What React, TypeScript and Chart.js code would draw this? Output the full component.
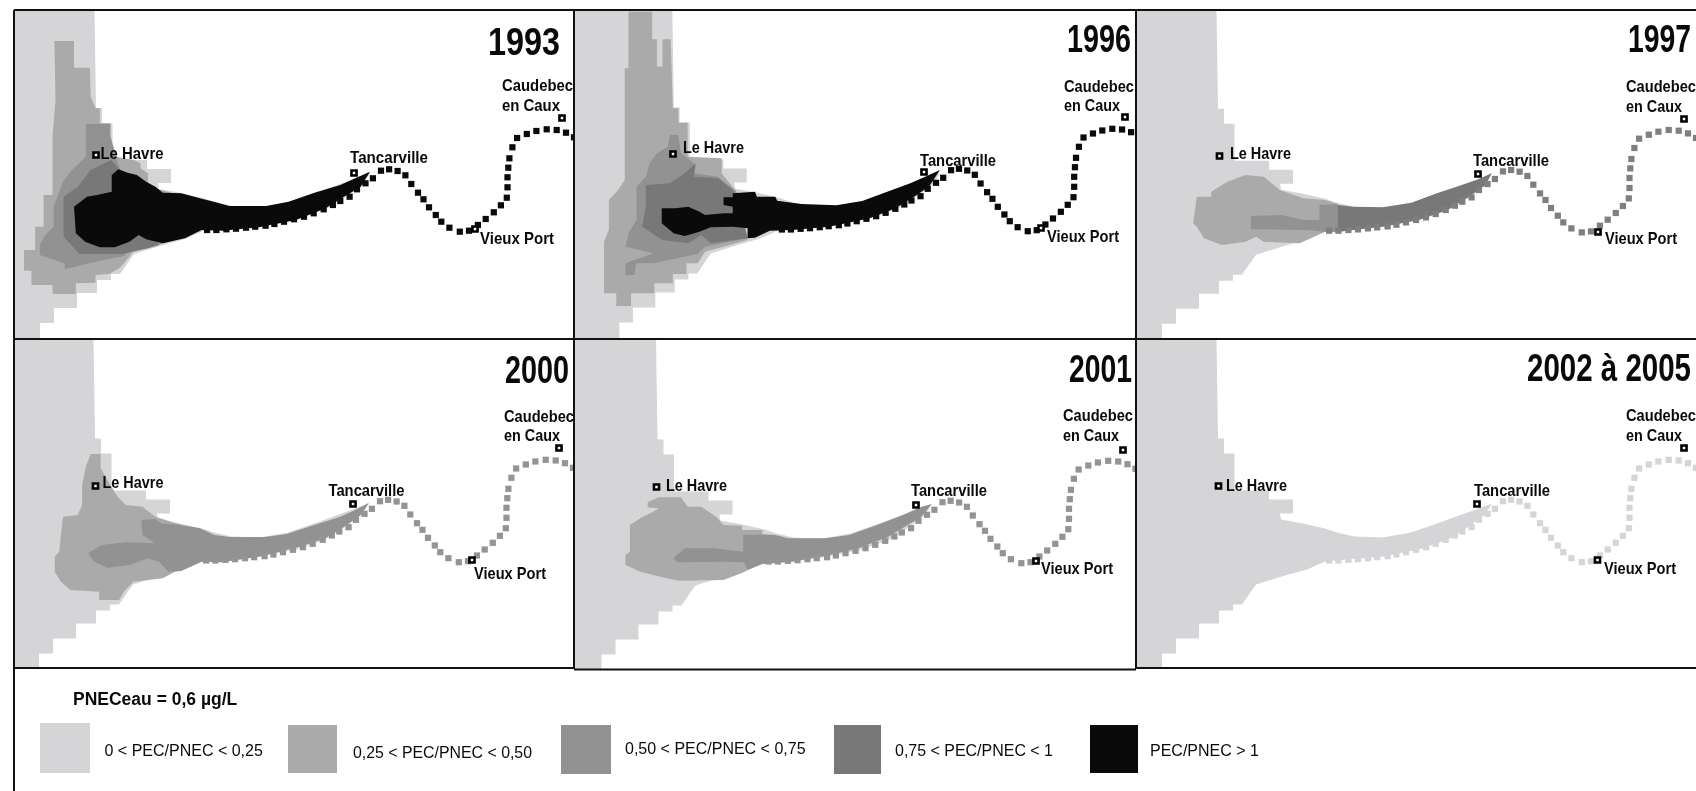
import React, { useEffect, useRef } from "react";
import { Chart, registerables } from "chart.js";

Chart.register(...registerables);

type P = number[];

// ---------- text ----------
const years = ["1993", "1996", "1997", "2000", "2001", "2002 à 2005"];
const townNames = ["Caudebec", "en Caux", "Le Havre", "Tancarville", "Vieux Port"];
const legendTitle = "PNECeau = 0,6 µg/L";
const legendLabels = [
  "0 < PEC/PNEC < 0,25",
  "0,25 < PEC/PNEC < 0,50",
  "0,50 < PEC/PNEC < 0,75",
  "0,75 < PEC/PNEC < 1",
  "PEC/PNEC > 1",
];
const classColors = ["#d5d4d6", "#aaaaaa", "#929292", "#787878", "#0a0a0a"];

// ---------- geography, in map units relative to a panel ----------
const seaExtent: P[] = [
  [0, 0], [80.5, 0], [82, 98], [88, 98], [88, 113], [98.5, 113], [98.5, 150], [133, 150], [133, 159], [157, 159],
  [157, 173], [144, 173], [145, 179], [167, 183], [189, 188], [201, 192], [218, 196], [247, 197], [275, 192],
  [301, 183], [326, 174], [340, 169], [356, 163], [349, 174], [333, 186], [312, 199], [283, 209], [247, 216],
  [210, 219], [189, 221], [171, 229], [149, 235], [120, 244], [115, 251], [106, 264], [97, 264], [97, 270],
  [83, 270], [83, 283], [63, 283], [63, 298], [40, 298], [40, 313], [26, 313], [26, 330], [0, 330],
];

const riverDots: P[] = [
  [193.1, 220], [202.4, 220], [212.4, 219.3], [222, 218.7], [232, 217.7], [241.2, 216.7], [251.6, 215.7],
  [260.4, 214], [270, 211.7], [280, 209.3], [290, 206.7], [299.7, 203.3], [309.7, 199.3], [318.9, 195],
  [326.3, 191], [335.6, 186.7], [343, 179.3], [351.5, 173.3], [358.9, 168.3], [367, 160.7], [375.1, 159.3],
  [383.6, 161], [391.4, 165.3], [397.3, 174], [404, 182.7], [409.5, 189.3], [415, 197.3], [421.8, 205],
  [427.3, 211.7], [435.4, 217.7], [445.8, 221.7], [455, 220.7], [463.9, 215], [471.7, 209], [479.8, 202.3],
  [486.9, 195.3], [492.8, 187.7], [493.5, 177.3], [493.5, 167.3], [494.3, 157.7], [495.4, 148.3], [498.4, 137.3],
  [503.1, 128], [512.8, 124], [522.4, 121], [532.7, 119.3], [542.7, 120], [552, 122.7], [560, 127.3],
];

// ---------- concentration classes, in traced units of each panel ----------
const y1993Mid: P[] = [
  [147, 123], [200, 123], [200, 203], [243, 203], [245, 290], [258, 325], [270, 325], [270, 370], [298, 370],
  [298, 408], [315, 470], [362, 480], [380, 490], [380, 505], [400, 520], [400, 560], [470, 580], [540, 600],
  [540, 690], [430, 735], [360, 755], [335, 790], [322, 805], [295, 822], [258, 825], [258, 848], [205, 850],
  [205, 882], [142, 882], [142, 855], [85, 855], [85, 812], [65, 812], [65, 750], [95, 750], [95, 680], [118, 680],
  [118, 585], [142, 585], [142, 410], [150, 300], [147, 123],
];
const y1993Class3: P[] = [
  [232, 372], [298, 372], [298, 408], [315, 480], [330, 520], [400, 620], [440, 730], [360, 745], [335, 768],
  [240, 790], [175, 808], [175, 790], [108, 765], [108, 735], [122, 705], [145, 680], [145, 620], [170, 545],
  [190, 515], [232, 470],
];
const y1993Class4: P[] = [
  [172, 590], [210, 560], [245, 510], [300, 480], [320, 505], [340, 600], [430, 735], [400, 745], [330, 762],
  [215, 762], [172, 710],
];
const y1993Black: P[] = [
  [200, 620], [235, 590], [262, 585], [302, 575], [302, 525], [320, 508], [345, 518], [370, 525], [395, 545],
  [420, 560], [440, 578], [490, 580], [540, 595], [578, 605], [620, 618], [720, 618], [780, 605], [850, 578],
  [920, 555], [960, 535], [1000, 515], [975, 560], [930, 590], [880, 625], [800, 660], [700, 682], [600, 692],
  [545, 690], [500, 715], [440, 730], [395, 718], [375, 705], [350, 725], [310, 742], [270, 742], [230, 725],
  [205, 700],
];

const y1996Mid: P[] = [
  [158, 35], [222, 35], [222, 118], [235, 118], [235, 200], [250, 200], [250, 118], [272, 118], [278, 325],
  [293, 325], [293, 368], [318, 368], [318, 470], [410, 475], [410, 520], [450, 575], [480, 720], [365, 755],
  [345, 790], [315, 790], [315, 822], [278, 822], [278, 850], [228, 850], [228, 880], [165, 880], [165, 918],
  [125, 918], [125, 880], [92, 880], [92, 725], [105, 690], [105, 600], [130, 570], [148, 540], [148, 205],
  [158, 205],
];
const y1996Class3: P[] = [
  [270, 405], [292, 405], [300, 460], [335, 490], [335, 520], [400, 530], [450, 575], [480, 715], [365, 740],
  [345, 762], [225, 790], [178, 790], [175, 825], [150, 825], [150, 790], [225, 760], [150, 740], [160, 695],
  [180, 660], [180, 560], [205, 530], [215, 490], [235, 460], [265, 440],
];
const y1996Class4: P[] = [
  [205, 555], [270, 550], [310, 520], [340, 490], [335, 530], [400, 535], [440, 570], [455, 610], [480, 715],
  [380, 730], [355, 705], [320, 730], [250, 720], [195, 680], [205, 620],
];
const y1996Black: P[] = [
  [248, 625], [285, 625], [320, 620], [350, 635], [365, 645], [415, 640], [440, 640], [440, 620], [415, 615],
  [415, 592], [440, 592], [440, 580], [500, 575], [505, 590], [555, 590], [560, 602], [625, 612], [720, 616],
  [790, 603], [850, 578], [920, 550], [960, 530], [1000, 510], [970, 560], [930, 590], [880, 625], [810, 655],
  [700, 680], [600, 690], [540, 692], [500, 713], [480, 715], [480, 685], [440, 680], [380, 682], [350, 695],
  [310, 708], [280, 700], [248, 670],
];

const y1997Mid: P[] = [
  [185, 590], [225, 590], [225, 575], [270, 545], [320, 525], [370, 530], [415, 570], [480, 595], [540, 600],
  [575, 612], [575, 695], [540, 695], [470, 730], [370, 725], [350, 710], [320, 725], [255, 735], [205, 715],
  [185, 680], [175, 670],
];
const y1997Class3: P[] = [
  [335, 648], [420, 645], [480, 660], [525, 660], [525, 615], [575, 612], [575, 697], [540, 695], [490, 690],
  [335, 688],
];
const y1997Class4: P[] = [
  [575, 615], [620, 620], [700, 622], [780, 608], [850, 580], [920, 555], [960, 540], [1002, 520], [985, 555],
  [940, 590], [880, 630], [800, 660], [700, 680], [600, 692], [575, 697],
];

const y2000Mid: P[] = [
  [245, 357], [272, 357], [272, 400], [298, 450], [318, 485], [340, 510], [385, 515], [420, 545], [490, 570],
  [490, 700], [440, 730], [360, 740], [335, 770], [322, 795], [268, 795], [268, 770], [190, 765], [165, 740],
  [148, 710], [148, 665], [160, 650], [170, 545], [210, 540], [222, 510], [222, 450], [232, 395],
];
const y2000Class3: P[] = [
  [382, 555], [420, 552], [435, 565], [490, 570], [540, 580], [580, 600], [620, 606], [715, 606], [775, 597],
  [850, 570], [920, 545], [960, 525], [997, 503], [975, 540], [930, 575], [880, 610], [810, 635], [700, 665],
  [600, 682], [545, 680], [490, 708], [455, 710], [430, 680], [400, 670], [350, 690], [290, 698], [255, 680],
  [238, 655], [275, 630], [340, 622], [420, 625], [385, 600],
];

const y2001Mid: P[] = [
  [210, 502], [240, 487], [300, 487], [318, 515], [355, 515], [395, 545], [415, 570], [465, 572], [465, 585],
  [520, 585], [520, 598], [480, 600], [470, 640], [510, 685], [470, 712], [415, 735], [295, 737], [255, 728],
  [190, 710], [150, 690], [150, 660], [162, 650], [162, 570], [190, 550], [225, 530], [240, 520], [210, 517],
];
const y2001Class3: P[] = [
  [468, 600], [520, 598], [555, 600], [590, 610], [690, 610], [755, 600], [830, 570], [900, 540], [950, 515],
  [978, 507], [950, 545], [905, 575], [860, 605], [780, 640], [680, 665], [600, 680], [520, 687], [480, 705],
  [470, 682], [420, 680], [290, 682], [280, 670], [310, 640], [390, 640], [468, 650],
];

// ---------- layout (chart units = page pixels) ----------
const panels = [
  { ox: 14, oy: 10, h: 329, sx: 1, dx: 0, dy: 0, river: "#0a0a0a", vx: 0, vy: 0, k: 2.703,
    layers: [[y1993Mid, 1], [y1993Class3, 2], [y1993Class4, 3], [y1993Black, 4]] },
  { ox: 574, oy: 10, h: 329, sx: 0.973, dx: 20, dy: -0.5, river: "#0a0a0a", vx: 570, vy: 0, k: 2.703,
    layers: [[y1996Mid, 1], [y1996Class3, 2], [y1996Class4, 3], [y1996Black, 4]] },
  { ox: 1136, oy: 10, h: 329, sx: 1, dx: 0, dy: 0.7, river: "#7f7f7f", vx: 1130, vy: 0, k: 2.77,
    layers: [[y1997Mid, 1], [y1997Class3, 2], [y1997Class4, 3]] },
  { ox: 14, oy: 339, h: 329, sx: 1, dx: -1, dy: 1.5, river: "#949494", vx: 0, vy: 335, k: 2.703,
    layers: [[y2000Mid, 1], [y2000Class3, 2]] },
  { ox: 574, oy: 339, h: 330, sx: 1, dx: 1.5, dy: 2.5, river: "#949494", vx: 570, vy: 335, k: 2.703,
    layers: [[y2001Mid, 1], [y2001Class3, 2]] },
  { ox: 1136, oy: 339, h: 329, sx: 1, dx: 0, dy: 1.5, river: classColors[0], vx: 1130, vy: 335, k: 2.77,
    layers: [] },
] as { ox: number; oy: number; h: number; sx: number; dx: number; dy: number; river: string; vx: number; vy: number; k: number; layers: [P[], number][] }[];

// title: [left, baseline, width]
const titleSpots: P[] = [
  [488, 55, 72], [1067, 52, 64], [1628, 52, 63], [505, 383, 64], [1069, 382, 63], [1527, 381, 164],
];
// town labels per panel: Caudebec, en Caux, Le Havre, Tancarville, Vieux Port as [left, baseline, width]
const townSpots: P[][] = [
  [[502, 91, 71], [502, 111, 58], [100.5, 159, 63], [350, 163, 78], [480, 244, 74]],
  [[1064, 92, 70], [1064, 111, 56], [683, 153, 61], [920, 166, 76], [1047, 242, 72]],
  [[1626, 92, 70], [1626, 112, 56], [1230, 159, 61], [1473, 166, 76], [1605, 244, 72]],
  [[504, 422, 70], [504, 441, 56], [102.5, 488, 61], [328.5, 496, 76], [474, 579, 72]],
  [[1063, 421, 70], [1063, 441, 56], [666, 491, 61], [911, 496, 76], [1041, 574, 72]],
  [[1626, 421, 70], [1626, 441, 56], [1226, 491, 61], [1474, 496, 76], [1604, 574, 72]],
];
// town markers per panel: Le Havre, Tancarville, Vieux Port, Caudebec
const markerSpots: P[][] = [
  [[96, 155], [354, 173], [475, 229], [562, 118]],
  [[673, 154], [924, 172], [1041, 228], [1125, 117]],
  [[1219.5, 156], [1478, 174], [1598, 232], [1684, 119]],
  [[95.5, 486], [353, 504], [472, 560], [559, 448]],
  [[656.5, 487], [916, 505], [1036, 561], [1123, 450]],
  [[1218.5, 486], [1477, 504], [1597.5, 560], [1684, 448]],
];
const frameLines: P[] = [
  [14, 10, 1696, 10], [14, 10, 14, 791], [574, 10, 574, 669], [1136, 10, 1136, 669],
  [14, 339, 1696, 339], [14, 668, 574, 668], [1136, 668, 1696, 668], [574, 669.5, 1136, 669.5],
];
const swatches: P[] = [
  [40, 723, 90, 773], [288, 725, 337, 773], [561, 725, 611, 774], [834, 725, 881, 774], [1090, 725, 1138, 773],
];
// legend labels: [left, baseline, width]
const legendSpots: P[] = [
  [104.5, 756, 159], [353, 758, 179], [625, 754, 181], [895, 756, 158], [1150, 756, 110],
];

function buildDatasets() {
  const out: any[] = [];
  let z = 0;
  const poly = (pts: P[], color: string) =>
    out.push({
      data: pts.map(([x, y]) => ({ x, y })),
      fill: "shape", backgroundColor: color, borderWidth: 0, pointRadius: 0, tension: 0, order: -z++, clip: false,
    });
  panels.forEach((p) => {
    poly(
      seaExtent.map(([x, y]) => [
        x === 0 ? p.ox : p.ox + p.dx + p.sx * x,
        Math.min(p.oy + y + (y === 0 ? 0 : p.dy), p.oy + p.h),
      ]),
      classColors[0]
    );
    p.layers.forEach(([pts, c]) =>
      poly(pts.map(([x, y]) => [p.vx + x / p.k, p.vy + y / 3]), classColors[c])
    );
    out.push({
      data: riverDots.map(([x, y]) => ({ x: p.ox + p.dx + p.sx * x, y: p.oy + p.dy + y })),
      showLine: false, pointStyle: "rect", pointRadius: 4.4, pointBackgroundColor: p.river, pointBorderWidth: 0,
      order: -z++, clip: false,
    });
  });
  markerSpots.forEach((m) =>
    out.push({
      data: m.map(([x, y]) => ({ x, y })),
      showLine: false, pointStyle: "rect", pointRadius: 3.6, pointBackgroundColor: "#ffffff",
      pointBorderColor: "#000000", pointBorderWidth: 2.6, order: -z++, clip: false,
    })
  );
  swatches.forEach(([a, b, c, d], i) =>
    poly([[a, b], [c, b], [c, d], [a, d]], classColors[i])
  );
  frameLines.forEach(([a, b, c, d]) =>
    out.push({
      data: [{ x: a, y: b }, { x: c, y: d }],
      borderColor: "#111111", borderWidth: 2, pointRadius: 0, fill: false, order: -z++, clip: false,
    })
  );
  return out;
}

const textPlugin = {
  id: "mapText",
  afterDatasetsDraw(chart: any) {
    const { ctx, scales } = chart;
    const put = (t: string, s: P, font: string) => {
      ctx.font = font;
      ctx.fillStyle = "#0a0a0a";
      ctx.textAlign = "left";
      ctx.textBaseline = "alphabetic";
      ctx.fillText(t, scales.x.getPixelForValue(s[0]), scales.y.getPixelForValue(s[1]), s[2]);
    };
    ctx.save();
    years.forEach((t, i) => put(t, titleSpots[i], 'bold 38px "Liberation Sans"'));
    townSpots.forEach((row) =>
      row.forEach((s, i) => put(townNames[i], s, 'bold 16.5px "Liberation Sans"'))
    );
    put(legendTitle, [73, 705, 180], 'bold 17.5px "Liberation Sans"');
    legendLabels.forEach((t, i) => put(t, legendSpots[i], '16px "Liberation Sans"'));
    ctx.restore();
  },
};

export default function App() {
  const ref = useRef<HTMLCanvasElement>(null);
  useEffect(() => {
    const chart = new Chart(ref.current!, {
      type: "line",
      data: { datasets: buildDatasets() },
      options: {
        animation: false,
        responsive: false,
        devicePixelRatio: 1,
        layout: { padding: 0, autoPadding: false },
        scales: {
          x: { type: "linear", min: 0, max: 1696, display: false },
          y: { type: "linear", min: 0, max: 791, reverse: true, display: false },
        },
        plugins: { legend: { display: false }, tooltip: { enabled: false } },
        events: [],
      },
      plugins: [textPlugin],
    } as any);
    return () => chart.destroy();
  }, []);
  return (
    <div style={{ position: "fixed", left: 0, top: 0, width: 1696, height: 791, background: "#fff" }}>
      <canvas ref={ref} width={1696} height={791} style={{ display: "block" }} />
    </div>
  );
}
